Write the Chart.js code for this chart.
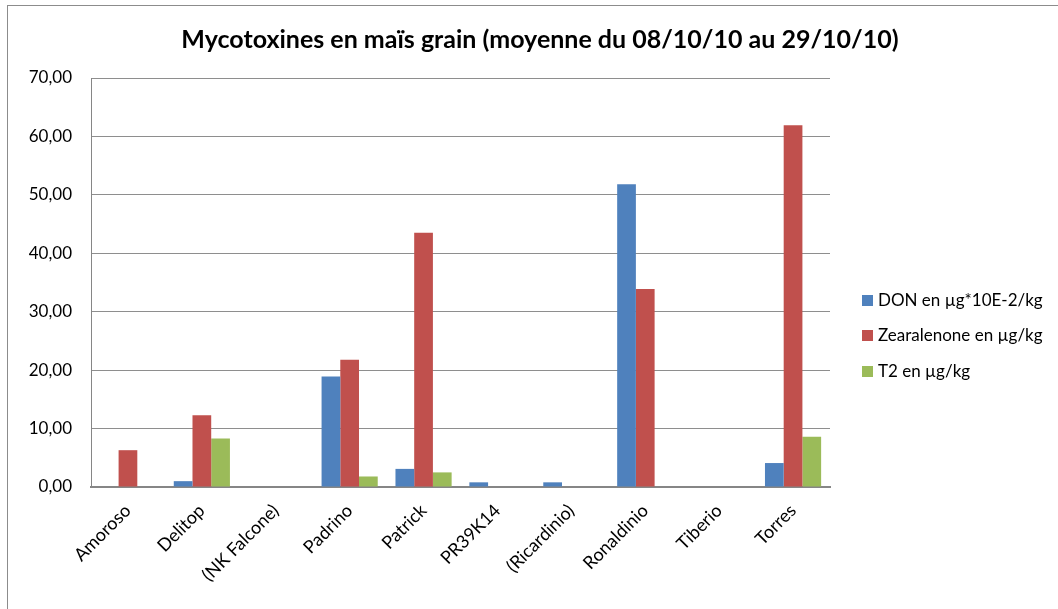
<!DOCTYPE html>
<html>
<head>
<meta charset="utf-8">
<script src="https://cdn.jsdelivr.net/npm/chart.js@4/dist/chart.umd.min.js"></script>
<style>
    body { margin: 0; background: #fff; }
    #wrap { position: relative; width: 1058px; height: 609px; overflow: hidden; font-family: Lato, sans-serif; color: #000; }
    #frame { position: absolute; left: 7px; top: 5px; width: 1100px; height: 700px; border: 1px solid #8c8c8c; }
    #title { position: absolute; left: 0; top: 23px; width: 1080px; text-align: center; font-size: 25px; font-weight: bold; }
    #legend { position: absolute; left: 862px; top: 288px; list-style: none; margin: 0; padding: 0; font-size: 17px; }
    #legend li { height: 35.3px; line-height: 24px; white-space: nowrap; }
    #legend span { display: inline-block; width: 11px; height: 11px; margin-right: 5px; vertical-align: 0px; }
    canvas { position: absolute; left: 0; top: 0; }
</style>
</head>
<body>
<div id="wrap">
    <div id="frame"></div>
    <canvas id="mycoChart" width="1058" height="609"></canvas>
    <div id="title">Mycotoxines en maïs grain (moyenne du 08/10/10 au 29/10/10)</div>
    <ul id="legend"></ul>
</div>
<script>
// Varieties (x axis)
const varieties = ["Amoroso", "Delitop", "(NK Falcone)", "Padrino", "Patrick", "PR39K14", "(Ricardinio)", "Ronaldinio", "Tiberio", "Torres"];

// Series values
const donValues = [0, 1.0, 0, 18.9, 3.1, 0.8, 0.8, 51.8, 0, 4.1];
const zeaValues = [6.3, 12.3, 0, 21.8, 43.5, 0, 0, 33.9, 0, 61.9];
const t2Values = [0, 8.3, 0, 1.8, 2.5, 0, 0, 0, 0, 8.6];

const seriesNames = ["DON en µg*10E-2/kg", "Zearalenone en µg/kg", "T2 en µg/kg"];
const seriesColors = ["#4F81BD", "#C0504D", "#9BBB59"];

// Y axis range
const yMin = 0;
const yMax = 70;
const yStep = 10;

// Build the legend as real text
const legendList = document.getElementById("legend");
seriesNames.forEach((name, i) => {
    const li = document.createElement("li");
    li.innerHTML = `<span style="background:${seriesColors[i]}"></span>${name}`;
    legendList.appendChild(li);
});

const ctx = document.getElementById("mycoChart").getContext("2d");

new Chart(ctx, {
    type: "bar",
    data: {
        labels: varieties,
        datasets: [donValues, zeaValues, t2Values].map((values, i) => ({
            label: seriesNames[i],
            data: values,
            backgroundColor: seriesColors[i],
            borderWidth: 0,
            categoryPercentage: 0.76,
            barPercentage: 1.0
        }))
    },
    options: {
        responsive: false,
        animation: false,
        layout: {
            padding: { left: 0, right: 228, top: 78, bottom: 0 }
        },
        plugins: {
            legend: { display: false },
            title: { display: false },
            tooltip: { enabled: false }
        },
        scales: {
            x: {
                grid: { display: false, drawTicks: false },
                border: { color: "#868686", width: 2 },
                ticks: {
                    color: "#000",
                    font: { family: "Lato", size: 18 },
                    maxRotation: 45,
                    minRotation: 45,
                    padding: 13,
                    autoSkip: false
                },
                afterFit: scale => { scale.height = 122; }
            },
            y: {
                min: yMin,
                max: yMax,
                grid: { color: "#8e8e8e", drawTicks: false },
                border: { color: "#868686", width: 1 },
                ticks: {
                    stepSize: yStep,
                    color: "#000",
                    padding: 19,
                    font: { family: "Lato", size: 17 },
                    callback: v => v.toFixed(2).replace(".", ",")
                },
                afterFit: scale => { scale.width = 91; }
            }
        }
    }
});
</script>
</body>
</html>
